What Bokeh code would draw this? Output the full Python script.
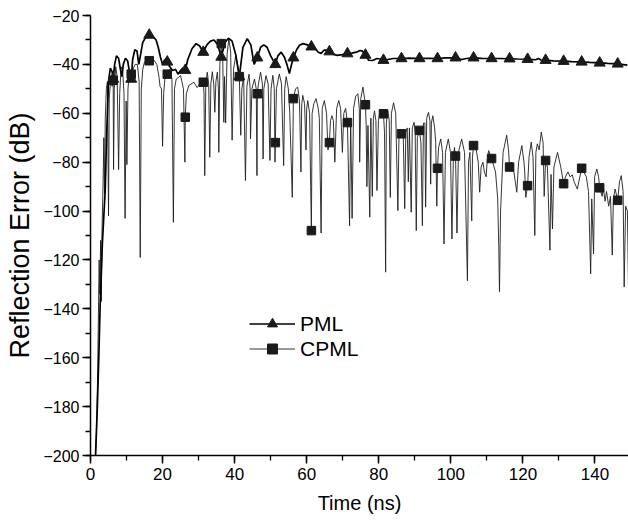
from bokeh.plotting import figure
from bokeh.models import Range1d, SingleIntervalTicker, Legend, LegendItem
from bokeh.embed import file_html
from bokeh.resources import INLINE

# ---------------- data ----------------
pml_points = [
    (1.4, -200), (1.9, -180), (2.3, -160), (2.7, -137), (3.3, -113), (4.1, -91), (4.5, -68),
    (5.0, -47), (5.5, -41.5), (6.0, -43), (6.3, -46), (6.7, -40), (7.2, -36.5), (7.8, -37.5),
    (8.3, -42), (8.7, -45), (9.1, -40), (9.7, -37.5), (10.3, -38.5), (10.8, -43), (11.3, -46),
    (11.7, -38), (12.3, -34), (12.9, -34.5), (13.4, -40), (13.9, -36), (14.5, -31), (15.3, -29),
    (16.3, -28), (17.3, -28.5), (18.2, -30), (18.8, -33), (19.4, -37), (20.0, -40), (20.6, -38),
    (21.3, -39), (22.0, -41), (22.8, -42.5), (23.6, -42), (24.3, -44), (25.0, -42.5), (25.6, -41.5),
    (26.3, -42.4), (27.0, -38), (28.2, -33.5), (29.3, -31.5), (30.3, -32.5), (31.3, -35), (32.3, -32),
    (33.3, -30.5), (34.3, -30), (35.3, -32), (36.3, -37), (37.3, -31), (38.3, -29.3), (39.3, -30.5),
    (40.3, -36), (41.3, -45), (42.3, -33), (43.5, -29.5), (44.5, -32), (45.4, -40), (46.3, -37.3),
    (47.2, -33), (48.1, -32), (49.0, -33), (50.0, -36.5), (51.3, -40), (52.0, -36.5), (52.9, -35),
    (53.8, -37), (54.5, -40), (55.2, -43.7), (55.8, -40), (56.3, -37.3), (57.2, -34), (58.0, -32.2),
    (59.0, -31.5), (60.2, -32), (61.3, -32.8), (62.3, -33.5), (63.2, -35), (64.0, -35.5), (64.8, -34.2),
    (65.5, -34.2), (66.3, -34.8), (67.3, -35.8), (68.5, -36.3), (69.8, -36), (71.3, -35.6), (72.5, -35.4),
    (73.8, -35), (74.8, -34.3), (75.5, -34.6), (76.3, -36.2), (77.2, -38.3), (78.3, -38.4), (79.5, -37.6),
    (80.4, -37.8), (81.3, -38.3), (82.5, -38), (84.0, -37.6), (86.3, -37.6), (88.5, -37.4), (91.3, -37.6),
    (93.5, -37.5), (96.3, -37.6), (98.5, -37.3), (101.3, -37.3), (103.0, -38), (104.3, -37.6),
    (106.3, -37.3), (108.5, -37.5), (111.3, -37.6), (113.5, -37.6), (116.3, -37.7), (118.5, -37.8),
    (121.3, -37.9), (123.5, -38.1), (124.3, -37.6), (125.0, -38.2), (126.3, -38.3), (128.5, -38.6),
    (131.3, -38.7), (133.5, -38.9), (136.3, -39), (138.5, -39.2), (141.3, -39.4), (143.5, -39.6),
    (146.3, -39.8), (149.0, -40.3),
]

cpml_points = [
    (1.4, -200), (1.7, -188), (2.0, -165), (2.2, -142), (2.4, -120), (2.6, -134), (2.8, -112), (3.0, -137),
    (3.2, -108), (3.5, -88), (3.7, -70), (3.9, -93), (4.1, -62), (4.4, -50), (4.7, -47), (5.0, -102),
    (5.2, -54), (5.6, -46), (6.0, -49), (6.3, -46.5), (6.4, -83), (6.6, -50), (7.0, -41), (7.4, -45),
    (7.8, -83), (8.1, -52), (8.5, -41), (8.9, -42), (9.3, -52), (9.6, -103), (9.9, -55), (10.1, -81),
    (10.4, -50), (10.8, -43), (11.3, -44), (11.8, -42), (12.4, -40), (13.0, -40), (13.5, -47), (13.8, -119),
    (14.1, -50), (14.5, -42), (15.0, -39), (16.3, -38.5), (17.5, -38), (18.4, -40), (19.0, -45), (19.3, -49),
    (19.7, -50), (20.0, -73.5), (20.3, -52), (20.7, -45), (21.3, -44), (22.0, -42), (22.6, -46), (23.0, -104.6),
    (23.3, -50), (23.8, -46), (25.0, -44.6), (25.8, -50), (26.2, -80), (26.3, -61.6), (26.6, -52), (27.3, -48.6),
    (28.7, -47.3), (29.6, -49.5), (30.3, -48), (31.3, -47.3), (31.5, -52), (31.7, -85.5), (32.0, -48),
    (32.4, -43.2), (32.8, -48), (33.1, -78), (33.4, -48), (33.8, -43), (34.2, -48), (34.5, -59.6), (34.8, -47),
    (35.2, -43.2), (35.5, -50), (35.6, -76), (35.9, -40), (36.3, -31.5), (36.7, -38), (37.0, -63.7), (37.2, -45),
    (37.5, -64), (37.9, -36), (38.4, -29.5), (38.9, -35), (39.3, -71), (39.7, -42), (40.3, -36.4), (40.8, -40),
    (41.3, -45), (41.7, -69), (42.0, -50), (42.5, -45), (43.0, -87.5), (43.4, -49), (44.0, -44), (44.3, -50),
    (44.4, -70.5), (44.8, -50), (45.5, -46), (46.0, -50), (46.2, -85.5), (46.3, -52), (46.6, -48), (47.2, -43.2),
    (47.7, -48), (47.9, -78.7), (48.1, -50), (48.7, -44.6), (49.3, -48), (49.8, -79.3), (50.1, -50), (50.6, -44.5),
    (51.0, -50), (51.2, -80), (51.3, -72), (51.6, -50), (52.4, -43.9), (53.0, -48), (53.6, -81.4), (53.9, -50),
    (54.3, -45), (54.9, -50), (55.3, -60), (56.0, -94.4), (56.3, -54), (56.9, -50), (57.5, -49.3), (58.0, -55),
    (58.4, -84), (58.6, -57), (58.9, -52.7), (59.4, -56), (59.8, -75), (60.0, -58), (60.3, -54.8), (60.8, -60),
    (61.1, -90), (61.3, -108), (61.5, -60), (62.0, -56), (62.6, -54), (63.2, -58), (63.5, -62), (64.0, -109),
    (64.3, -58), (64.9, -54.8), (65.5, -60), (65.9, -75), (66.3, -72), (66.6, -63), (67.0, -61), (67.4, -63),
    (67.8, -80), (68.3, -58), (68.9, -54.8), (69.4, -58), (69.9, -76), (70.3, -60), (70.8, -58), (71.3, -63.8),
    (71.9, -106), (72.2, -62), (72.6, -103), (73.0, -58), (73.6, -53), (74.2, -52), (74.6, -58), (74.7, -80),
    (75.0, -54), (75.6, -49.3), (76.3, -56.5), (76.5, -65), (76.7, -90), (77.0, -65), (77.5, -102.5), (77.8, -62),
    (78.2, -94), (78.5, -62), (78.8, -59), (79.2, -63), (79.5, -91.6), (79.9, -63), (80.5, -58.5), (81.3, -60.2),
    (81.6, -68), (81.9, -125), (82.1, -64), (82.5, -59), (82.9, -63), (83.2, -94.4), (83.5, -60), (84.1, -55.7),
    (84.7, -60), (85.3, -99.8), (85.6, -70), (86.3, -68.4), (86.8, -70), (87.2, -99), (87.5, -68), (87.9, -66),
    (88.2, -88), (88.5, -66), (89.0, -100.5), (89.3, -66), (89.8, -63.7), (90.1, -68), (90.4, -108), (90.7, -70),
    (91.3, -67), (91.7, -72), (92.1, -106), (92.4, -64), (92.8, -64), (93.0, -98.4), (93.3, -62), (93.8, -59.6),
    (94.2, -63), (94.4, -89), (94.6, -64), (95.0, -61), (95.5, -66), (95.8, -72), (96.1, -98), (96.3, -82.5),
    (96.6, -74), (97.2, -70.5), (97.7, -76), (98.1, -113.5), (98.5, -76), (99.3, -70.5), (99.9, -76),
    (100.3, -111.4), (100.7, -78), (101.0, -74), (101.3, -77.5), (101.7, -109), (102.1, -76), (103.0, -70.5),
    (103.8, -76), (104.6, -128.5), (104.9, -80), (105.3, -76), (105.8, -104), (106.0, -78), (106.3, -73.2),
    (107.0, -74.6), (107.6, -80), (108.0, -92.3), (108.4, -82), (108.9, -80), (109.3, -84), (109.8, -86),
    (110.1, -79), (110.5, -75.3), (111.3, -78.5), (112.4, -84), (113.0, -95), (113.3, -114.8), (113.5, -133),
    (113.8, -100), (114.5, -76), (115.5, -69), (116.0, -75), (116.3, -82), (116.8, -80), (117.5, -84),
    (118.3, -92.3), (118.8, -80), (119.7, -73.2), (120.3, -80), (120.5, -84), (120.8, -94.4), (121.3, -89.6),
    (121.7, -78), (122.3, -71.8), (122.8, -78), (123.3, -110), (123.6, -76), (124.0, -72.5), (124.5, -75),
    (125.1, -67.7), (125.6, -72), (125.9, -94), (126.3, -79.3), (126.8, -82), (127.5, -116), (127.8, -85),
    (128.2, -107.3), (128.6, -82), (129.6, -76), (130.5, -82), (131.3, -88.8), (131.8, -86), (132.5, -84),
    (133.1, -86), (133.7, -85.2), (134.2, -88), (135.1, -91), (135.8, -86), (136.3, -82.5), (136.9, -84),
    (137.6, -86), (138.2, -92), (138.8, -125.7), (139.1, -95), (139.6, -117.5), (139.9, -86), (140.5, -82.8),
    (141.0, -86), (141.3, -90.5), (142.0, -94), (142.3, -90), (142.8, -96), (143.2, -92), (143.8, -98),
    (144.3, -94), (144.8, -118), (145.1, -95), (145.6, -91), (146.3, -95.6), (146.8, -88), (147.3, -85.5),
    (147.8, -92), (148.1, -131), (148.5, -98), (149.0, -100), (149.5, -152),
]

marker_t = [6.3, 11.3, 16.3, 21.3, 26.3, 31.3, 36.3, 41.3, 46.3, 51.3, 56.3, 61.3, 66.3, 71.3, 76.3,
            81.3, 86.3, 91.3, 96.3, 101.3, 106.3, 111.3, 116.3, 121.3, 126.3, 131.3, 136.3, 141.3, 146.3]
pml_marker_db = [-46, -46, -28, -39, -42.4, -35, -37, -45, -37.3, -40, -37.3, -32.8, -34.8, -35.6, -36.2,
                 -38.3, -37.6, -37.6, -37.6, -37.3, -37.3, -37.6, -37.7, -37.9, -38.3, -38.7, -39, -39.4, -39.8]
cpml_marker_db = [-46.5, -44, -38.5, -44, -61.6, -47.3, -31.5, -45, -52, -72, -54, -108, -72, -63.8, -56.5,
                  -60.2, -68.4, -67, -82.5, -77.5, -73.2, -78.5, -82, -89.6, -79.3, -88.8, -82.5, -90.5, -95.6]

series_labels = ["PML", "CPML"]
x_label = "Time (ns)"
y_label = "Reflection Error (dB)"

pml_t = [a for a, b in pml_points]
pml_db = [b for a, b in pml_points]
cpml_t = [a for a, b in cpml_points]
cpml_db = [b for a, b in cpml_points]

FONT = "Liberation Sans"

p = figure(width=628, height=522, output_backend="svg", toolbar_location=None,
           x_range=Range1d(0, 149.3), y_range=Range1d(-200, -20),
           min_border_left=90, min_border_right=0, min_border_top=15, min_border_bottom=67)
p.outline_line_color = None
p.grid.visible = False
p.background_fill_color = "white"
p.border_fill_color = "white"

cl = p.line(cpml_t, cpml_db, line_color="#1e1e1e", line_width=0.9)
pl = p.line(pml_t, pml_db, line_color="#000000", line_width=1.7)
cm = p.scatter(marker_t, cpml_marker_db, marker="square", size=8.5, fill_color="#1a1a1a", line_color="#1a1a1a")
pm = p.scatter(marker_t, pml_marker_db, marker="triangle", size=11, fill_color="#1a1a1a", line_color="#1a1a1a")

for ax in (p.xaxis[0], p.yaxis[0]):
    ax.ticker = SingleIntervalTicker(interval=20, num_minor_ticks=2)
    ax.axis_line_width = 1.5
    ax.axis_line_color = "black"
    ax.major_tick_line_width = 1.5
    ax.minor_tick_line_width = 1.3
    ax.major_tick_in = 0
    ax.major_tick_out = 8
    ax.minor_tick_in = 0
    ax.minor_tick_out = 5
    ax.major_label_text_font = FONT
    ax.major_label_text_color = "black"
    ax.axis_label_text_font = FONT
    ax.axis_label_text_font_style = "normal"
    ax.axis_label_text_color = "black"

p.xaxis.axis_label = x_label
p.xaxis.major_label_text_font_size = "17px"
p.xaxis.axis_label_text_font_size = "20px"
p.xaxis.major_label_standoff = 4
p.xaxis.axis_label_standoff = 9

p.yaxis.axis_label = y_label
p.yaxis.major_label_text_font_size = "16px"
p.yaxis.axis_label_text_font_size = "27px"
p.yaxis.major_label_standoff = 3
p.yaxis.axis_label_standoff = 5

legend = Legend(items=[LegendItem(label=series_labels[0], renderers=[pl, pm]),
                       LegendItem(label=series_labels[1], renderers=[cl, cm])],
                location=(159, 94))
legend.glyph_width = 46
legend.glyph_height = 25
legend.label_height = 25
legend.spacing = 0
legend.padding = 0
legend.margin = 0
legend.label_standoff = 5
legend.border_line_color = None
legend.background_fill_alpha = 0
legend.label_text_font = FONT
legend.label_text_font_size = "21px"
legend.label_text_color = "black"
p.add_layout(legend)

open("out.html", "w").write(file_html(p, INLINE))
